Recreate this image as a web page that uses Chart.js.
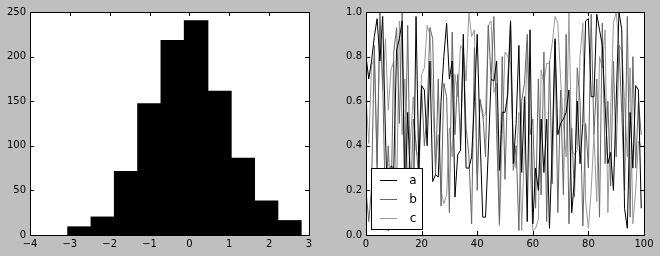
<!DOCTYPE html>
<html>
<head>
<meta charset="utf-8">
<script src="https://cdn.jsdelivr.net/npm/chart.js@4"></script>
<style>
  html, body { margin: 0; padding: 0; background: #bfbfbf; }
  .panel { position: absolute; top: 0; width: 330px; height: 256px; }
</style>
</head>
<body>
<div class="panel" style="left:0"><canvas id="hist" width="330" height="256"></canvas></div>
<div class="panel" style="left:330px"><canvas id="lines" width="330" height="256"></canvas></div>
<script>
// histogram of 1000 normal samples (10 bins)
var binEdges = [-3.05, -2.465, -1.88, -1.295, -0.71, -0.125, 0.46, 1.045, 1.63, 2.215, 2.80];
var histCounts = [9, 20, 71, 147, 218, 240, 161, 86, 38, 16];

// three random series, 100 points each
var seriesLabels = ["a", "b", "c"];
var seriesColors = ["#000000", "#666666", "#999999"];
var seriesA = [
  0.80, 0.70, 0.78, 0.89, 0.97, 0.78, 0.98, 0.45, 0.02, 0.31,
  0.30, 0.83, 0.88, 0.96, 0.12, 0.55, 0.22, 0.08, 0.98, 0.30,
  0.67, 0.65, 0.40, 0.78, 0.24, 0.27, 0.26, 0.60, 0.80, 0.95,
  0.70, 0.78, 0.17, 0.36, 0.38, 0.90, 0.30, 0.30, 0.35, 0.60,
  0.90, 0.45, 0.08, 0.08, 0.38, 0.70, 0.69, 0.78, 0.29, 0.55,
  0.55, 0.63, 0.96, 0.32, 0.50, 0.85, 0.28, 0.62, 0.06, 0.92,
  0.05, 0.30, 0.20, 0.52, 0.28, 0.52, 0.03, 0.40, 0.88, 0.45,
  0.50, 0.52, 0.55, 0.65, 0.10, 0.25, 0.60, 0.32, 0.50, 0.96,
  0.97, 0.62, 0.62, 0.99, 0.92, 0.85, 0.58, 0.32, 0.37, 0.20,
  0.60, 1.00, 0.92, 0.12, 0.03, 0.55, 0.30, 0.67, 0.65, 0.12
];
var seriesB = [
  0.20, 0.06, 0.21, 0.85, 0.30, 1.00, 0.69, 0.10, 0.40, 0.12,
  0.82, 0.93, 0.50, 1.00, 0.25, 0.94, 0.13, 0.52, 0.41, 0.25,
  0.66, 0.40, 0.55, 0.93, 0.88, 0.27, 0.70, 0.13, 0.68, 0.62,
  0.10, 0.91, 0.45, 0.72, 0.40, 0.84, 0.48, 0.36, 0.05, 0.84,
  0.20, 0.61, 0.55, 0.35, 0.94, 0.70, 0.98, 0.45, 0.05, 0.80,
  0.25, 0.70, 0.96, 0.29, 0.40, 0.02, 0.60, 0.68, 0.90, 0.45,
  0.52, 0.12, 0.70, 0.18, 0.82, 0.06, 0.78, 0.23, 0.87, 0.10,
  0.65, 0.18, 0.90, 0.05, 0.48, 0.17, 0.75, 0.60, 0.04, 0.50,
  0.30, 0.99, 0.45, 0.70, 0.08, 0.95, 0.32, 0.60, 0.22, 0.78,
  0.35, 0.85, 0.55, 0.20, 0.98, 0.08, 0.80, 0.30, 0.60, 0.45
];
var seriesC = [
  0.62, 0.41, 0.76, 0.79, 0.32, 0.93, 0.65, 0.88, 0.56, 0.74,
  0.78, 0.15, 0.96, 0.45, 0.70, 0.20, 0.43, 0.62, 0.38, 0.35,
  0.72, 0.75, 0.94, 0.90, 0.60, 0.31, 0.45, 0.20, 0.14, 0.18,
  0.48, 0.35, 0.72, 0.62, 0.85, 0.83, 0.69, 1.00, 0.89, 0.92,
  0.27, 0.60, 0.53, 0.54, 0.94, 0.96, 0.64, 0.68, 0.04, 0.45,
  0.82, 0.80, 0.77, 0.42, 0.30, 0.55, 0.02, 0.40, 0.86, 0.33,
  0.02, 0.03, 0.07, 0.74, 0.68, 0.77, 0.77, 0.86, 0.98, 0.95,
  0.70, 0.50, 0.35, 1.00, 0.38, 0.36, 0.38, 0.80, 0.95, 0.15,
  0.03, 0.20, 0.45, 0.15, 0.80, 0.75, 0.92, 0.10, 0.55, 0.95,
  1.00, 0.85, 0.83, 0.60, 0.35, 0.75, 0.05, 0.20, 0.42, 0.40
];

Chart.defaults.font.family = "'DejaVu Sans', sans-serif";
Chart.defaults.font.size = 10;
Chart.defaults.color = "#000";
Chart.defaults.animation = false;

function minusLabel(v) {
  return v < 0 ? "\u2212" + Math.abs(v) : String(v);
}

// white plot area, black frame and inward ticks on all four sides
const frameTicks = {
  id: "frameTicks",
  beforeDraw(chart) {
    const a = chart.chartArea;
    chart.ctx.save();
    chart.ctx.fillStyle = "#fff";
    chart.ctx.fillRect(a.left, a.top, a.right - a.left, a.bottom - a.top);
    chart.ctx.restore();
  },
  afterDraw(chart) {
    const ctx = chart.ctx, a = chart.chartArea;
    const sx = chart.scales.x, sy = chart.scales.y;
    ctx.save();
    ctx.strokeStyle = "#000";
    ctx.lineWidth = 1;
    ctx.beginPath();
    sx.ticks.forEach(t => {
      const px = Math.round(sx.getPixelForValue(t.value)) + 0.5;
      ctx.moveTo(px, a.bottom); ctx.lineTo(px, a.bottom - 4);
      ctx.moveTo(px, a.top); ctx.lineTo(px, a.top + 4);
    });
    sy.ticks.forEach(t => {
      const py = Math.round(sy.getPixelForValue(t.value)) + 0.5;
      ctx.moveTo(a.left, py); ctx.lineTo(a.left + 4, py);
      ctx.moveTo(a.right, py); ctx.lineTo(a.right - 4, py);
    });
    ctx.stroke();
    ctx.strokeRect(Math.round(a.left) + 0.5, Math.round(a.top) + 0.5,
      Math.round(a.right - a.left), Math.round(a.bottom - a.top));
    ctx.restore();
  }
};

// matplotlib-like legend box in the lower left of the plot area
const boxLegend = {
  id: "boxLegend",
  afterDraw(chart) {
    const ctx = chart.ctx, a = chart.chartArea;
    const x0 = a.left + 5, y0 = a.bottom - 67, w = 51, h = 61;
    ctx.save();
    ctx.fillStyle = "#fff";
    ctx.fillRect(x0, y0, w, h);
    ctx.strokeStyle = "#000";
    ctx.lineWidth = 1;
    ctx.strokeRect(x0 + 0.5, y0 + 0.5, w, h);
    ctx.font = "12px 'DejaVu Sans'";
    ctx.textBaseline = "middle";
    ctx.textAlign = "center";
    chart.data.datasets.forEach((ds, i) => {
      const y = Math.round(y0 + 12 + i * 19) + 0.5;
      ctx.strokeStyle = ds.borderColor;
      ctx.beginPath();
      ctx.moveTo(x0 + 9, y); ctx.lineTo(x0 + 26, y);
      ctx.stroke();
      ctx.fillStyle = "#000";
      ctx.fillText(ds.label, x0 + 42, y);
    });
    ctx.restore();
  }
};

function fixedAxes(yWidth) {
  return {
    x: {
      type: "linear",
      offset: false,
      grid: { display: false, drawTicks: false, offset: false },
      border: { display: false },
      ticks: { padding: 3, maxRotation: 0, font: { size: 10 } },
      afterFit(scale) { scale.height = 21; }
    },
    y: {
      type: "linear",
      grid: { display: false, drawTicks: false },
      border: { display: false },
      ticks: { padding: 4, font: { size: 10 } },
      afterFit(scale) { scale.width = yWidth; }
    }
  };
}

// left: histogram
var histScales = fixedAxes(30);
histScales.x.min = -4; histScales.x.max = 3;
histScales.x.ticks.stepSize = 1;
histScales.x.ticks.callback = v => minusLabel(v);
histScales.y.min = 0; histScales.y.max = 250;
histScales.y.ticks.stepSize = 50;

new Chart(document.getElementById("hist"), {
  type: "bar",
  data: {
    datasets: [{
      data: histCounts.map((c, i) => ({ x: (binEdges[i] + binEdges[i + 1]) / 2, y: c })),
      backgroundColor: "#000",
      borderWidth: 0,
      inflateAmount: 0.6,
      barPercentage: 1,
      categoryPercentage: 1
    }]
  },
  options: {
    responsive: false,
    devicePixelRatio: 1,
    layout: { padding: { left: 0, right: 21, top: 12, bottom: 0 } },
    plugins: { legend: { display: false }, tooltip: { enabled: false } },
    scales: histScales
  },
  plugins: [frameTicks]
});

// right: three line series
var lineScales = fixedAxes(36);
lineScales.x.min = 0; lineScales.x.max = 100;
lineScales.x.ticks.stepSize = 20;
lineScales.y.min = 0; lineScales.y.max = 1;
lineScales.y.ticks.stepSize = 0.2;
lineScales.y.ticks.callback = v => v.toFixed(1);

var allSeries = [seriesA, seriesB, seriesC];
new Chart(document.getElementById("lines"), {
  type: "line",
  data: {
    datasets: allSeries.map((s, k) => ({
      label: seriesLabels[k],
      data: s.map((v, i) => ({ x: i, y: v })),
      borderColor: seriesColors[k],
      borderWidth: 1,
      pointRadius: 0,
      tension: 0,
      fill: false
    }))
  },
  options: {
    responsive: false,
    devicePixelRatio: 1,
    layout: { padding: { left: 0, right: 16, top: 12, bottom: 0 } },
    plugins: { legend: { display: false }, tooltip: { enabled: false } },
    scales: lineScales
  },
  plugins: [frameTicks, boxLegend]
});
</script>
</body>
</html>
